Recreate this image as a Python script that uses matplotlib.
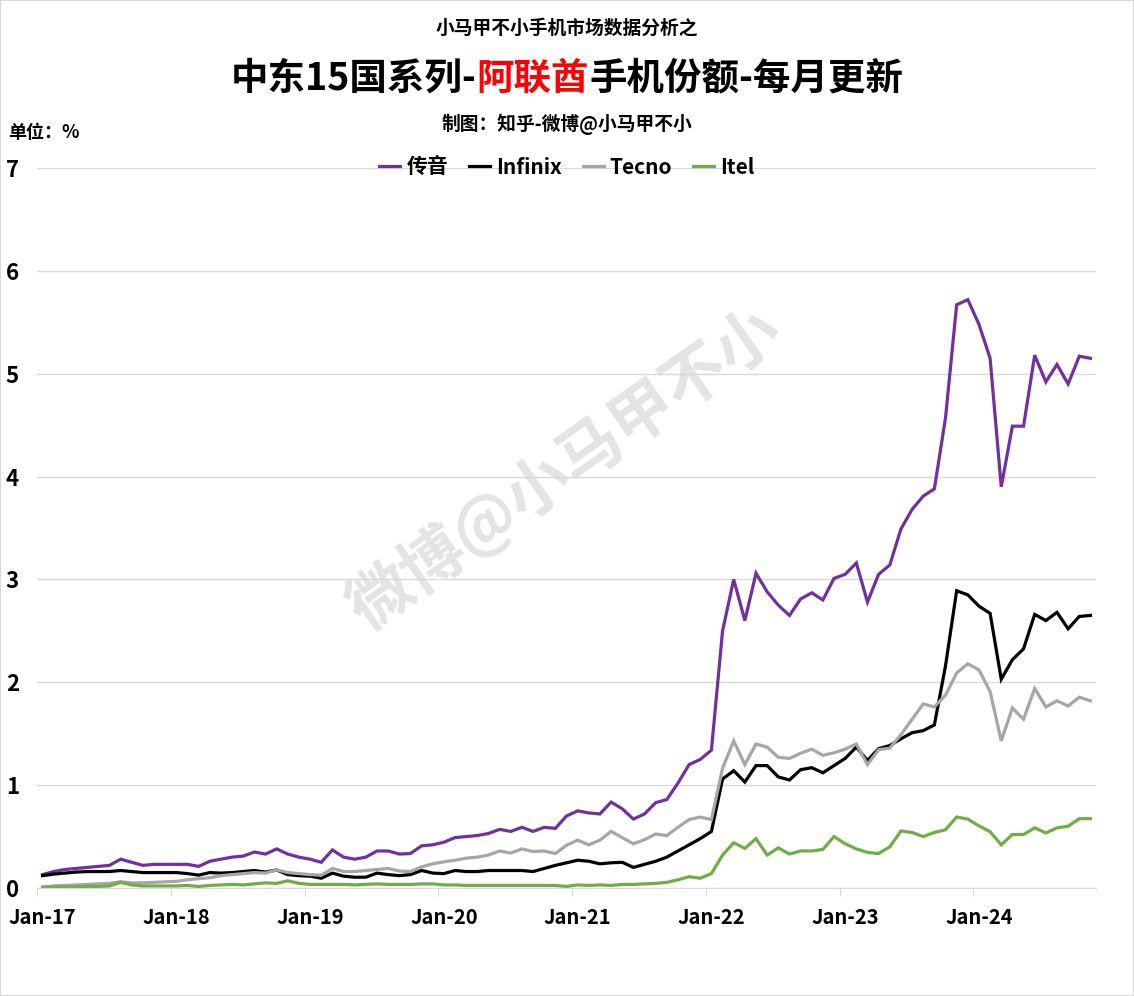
import numpy as np
import matplotlib.pyplot as plt

plt.rcParams['font.family'] = ['Noto Sans CJK SC', 'DejaVu Sans']
plt.rcParams['font.weight'] = 'bold'

# monthly share (%), Jan-17 .. Nov-24
transsion = [0.13, 0.16, 0.18, 0.19, 0.20, 0.21, 0.22, 0.28, 0.25, 0.22, 0.23, 0.23,
             0.23, 0.23, 0.21, 0.26, 0.28, 0.30, 0.31, 0.35, 0.33, 0.38, 0.33, 0.30,
             0.28, 0.25, 0.37, 0.30, 0.28, 0.30, 0.36, 0.36, 0.33, 0.335, 0.41, 0.42,
             0.445, 0.49, 0.50, 0.51, 0.53, 0.57, 0.55, 0.59, 0.55, 0.59, 0.58, 0.70,
             0.75, 0.73, 0.72, 0.835, 0.77, 0.67, 0.72, 0.83, 0.86, 1.02, 1.20, 1.25,
             1.34, 2.50, 3.00, 2.60, 3.06, 2.88, 2.75, 2.65, 2.81, 2.87, 2.80, 3.01,
             3.05, 3.16, 2.78, 3.05, 3.14, 3.49, 3.68, 3.81, 3.88, 4.57, 5.67, 5.72,
             5.48, 5.15, 3.90, 4.49, 4.49, 5.18, 4.92, 5.09, 4.90, 5.17, 5.15]
infinix = [0.12, 0.135, 0.145, 0.155, 0.16, 0.16, 0.16, 0.17, 0.16, 0.15, 0.15, 0.15,
           0.15, 0.14, 0.125, 0.15, 0.145, 0.15, 0.16, 0.17, 0.155, 0.175, 0.13, 0.12,
           0.115, 0.095, 0.145, 0.115, 0.105, 0.105, 0.145, 0.13, 0.12, 0.13, 0.17, 0.145,
           0.14, 0.17, 0.16, 0.16, 0.17, 0.17, 0.17, 0.17, 0.16, 0.19, 0.22, 0.245,
           0.27, 0.26, 0.235, 0.245, 0.25, 0.20, 0.23, 0.26, 0.30, 0.36, 0.42, 0.48,
           0.55, 1.06, 1.14, 1.03, 1.19, 1.19, 1.08, 1.05, 1.15, 1.17, 1.12, 1.19,
           1.26, 1.37, 1.24, 1.355, 1.385, 1.45, 1.51, 1.53, 1.585, 2.16, 2.89, 2.85,
           2.74, 2.67, 2.03, 2.22, 2.325, 2.66, 2.60, 2.68, 2.52, 2.64, 2.65]
tecno = [0.01, 0.02, 0.025, 0.03, 0.035, 0.04, 0.045, 0.06, 0.05, 0.05, 0.055, 0.06,
         0.065, 0.08, 0.09, 0.10, 0.12, 0.13, 0.14, 0.15, 0.145, 0.175, 0.15, 0.14,
         0.13, 0.125, 0.19, 0.16, 0.16, 0.17, 0.18, 0.19, 0.165, 0.16, 0.205, 0.235,
         0.255, 0.27, 0.29, 0.30, 0.32, 0.36, 0.34, 0.38, 0.355, 0.36, 0.335, 0.415,
         0.465, 0.42, 0.465, 0.55, 0.49, 0.43, 0.47, 0.525, 0.51, 0.59, 0.665, 0.69,
         0.665, 1.165, 1.43, 1.20, 1.40, 1.37, 1.27, 1.26, 1.31, 1.35, 1.29, 1.315,
         1.35, 1.40, 1.20, 1.345, 1.36, 1.49, 1.64, 1.79, 1.76, 1.875, 2.09, 2.18,
         2.12, 1.91, 1.43, 1.75, 1.64, 1.94, 1.76, 1.82, 1.77, 1.855, 1.82]
itel = [0.005, 0.01, 0.01, 0.01, 0.015, 0.015, 0.02, 0.055, 0.03, 0.02, 0.02, 0.02,
        0.02, 0.025, 0.015, 0.025, 0.03, 0.035, 0.03, 0.04, 0.05, 0.045, 0.07, 0.045,
        0.035, 0.035, 0.035, 0.035, 0.03, 0.035, 0.04, 0.035, 0.035, 0.035, 0.04, 0.04,
        0.03, 0.03, 0.025, 0.025, 0.025, 0.025, 0.025, 0.025, 0.025, 0.025, 0.025, 0.015,
        0.03, 0.025, 0.03, 0.025, 0.035, 0.035, 0.04, 0.045, 0.055, 0.08, 0.11, 0.095,
        0.14, 0.32, 0.44, 0.385, 0.48, 0.32, 0.39, 0.33, 0.36, 0.36, 0.375, 0.50,
        0.43, 0.38, 0.346, 0.335, 0.40, 0.554, 0.54, 0.50, 0.54, 0.566, 0.69, 0.67,
        0.604, 0.547, 0.42, 0.52, 0.52, 0.585, 0.535, 0.585, 0.60, 0.674, 0.674]

years = ['17', '18', '19', '20', '21', '22', '23', '24']
year_labels = ['Jan-' + y for y in years]

series = [('传音', transsion, '#7030A0'),
          ('Infinix', infinix, '#000000'),
          ('Tecno', tecno, '#A6A6A6'),
          ('Itel', itel, '#70AD47')]

W, H = 1134, 996
fig = plt.figure(figsize=(W / 100, H / 100), dpi=100)
ax = fig.add_axes([37 / W, 1 - 888 / H, (1096 - 37) / W, (888 - 168) / H])

x = np.arange(len(transsion))
for name, vals, color in series:
    ax.plot(x, vals, color=color, lw=2.3, label=name, solid_joinstyle='miter')

ax.set_xlim(-0.5, len(x) - 0.5)
ax.set_ylim(0, 7)
ax.set_yticks(range(8))
ax.yaxis.grid(True, color='#d9d9d9', lw=1)
ax.set_axisbelow(True)
ax.tick_params(axis='y', length=0, pad=13, labelsize=16)
for t in ax.get_yticklabels():
    t.set_fontweight('bold')

# tick marks at year boundaries, labels at January points
ax.set_xticks(np.arange(-0.5, len(x), 12))
ax.set_xticklabels([])
ax.set_xticks(np.arange(0, len(x), 12), minor=True)
ax.set_xticklabels(year_labels, minor=True, fontsize=14.5, fontweight='bold')
ax.tick_params(axis='x', which='major', length=6, color='#d9d9d9')
ax.tick_params(axis='x', which='minor', length=0, pad=14)

for s in ['left', 'right', 'top']:
    ax.spines[s].set_visible(False)
ax.spines['bottom'].set_color('#d9d9d9')

fig.legend(loc='center', bbox_to_anchor=(567 / W, 1 - 167 / H), ncol=4, frameon=False,
           handlelength=1.0, columnspacing=1.0, handletextpad=0.3,
           prop={'size': 15, 'weight': 'bold'})

fig.text(567 / W, 1 - 28 / H, '小马甲不小手机市场数据分析之', ha='center', va='center',
         fontsize=13.5, fontweight='bold')
fig.text(567 / W, 1 - 124 / H, '制图：知乎-微博@小马甲不小', ha='center', va='center',
         fontsize=13.5, fontweight='bold')
fig.text(8 / W, 1 - 132 / H, '单位：%', ha='left', va='center',
         fontsize=13, fontweight='bold')

# title with red country name
parts = [('中东15国系列-', 'black'), ('阿联酋', '#FF0000'), ('手机份额-每月更新', 'black')]
renderer = fig.canvas.get_renderer()
texts = []
for s, c in parts:
    t = fig.text(0, 1 - 78 / H, s, color=c, fontsize=27, fontweight='bold',
                 ha='left', va='center')
    texts.append(t)
widths = [t.get_window_extent(renderer).width for t in texts]
xpos = 567 - sum(widths) / 2
for t, w in zip(texts, widths):
    t.set_x(xpos / W)
    xpos += w

# watermark
fig.text(565 / W, 1 - 470 / H, '微博@小马甲不小', ha='center', va='center', rotation=35,
         fontsize=46, fontweight='bold', color='#d6d6d6', alpha=0.65)

fig.patches.append(plt.Rectangle((0, 0), 1, 1, transform=fig.transFigure, fill=False,
                                 edgecolor='#d9d9d9', lw=1.5))

fig.savefig('out.png', dpi=100, facecolor='white')
